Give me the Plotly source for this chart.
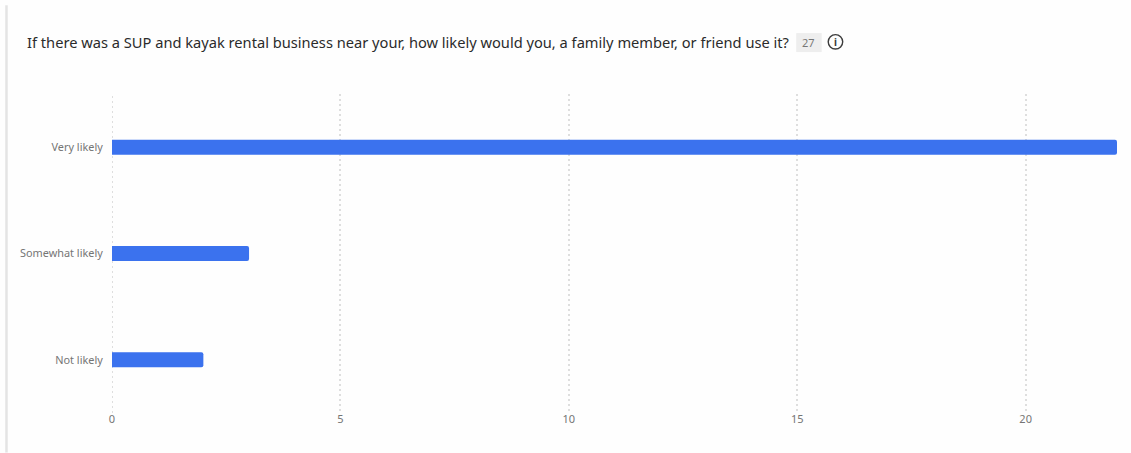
import plotly.graph_objects as go

categories = ["Very likely", "Somewhat likely", "Not likely"]
counts = [22, 3, 2]
x_ticks = [0, 5, 10, 15, 20]
question = "If there was a SUP and kayak rental business near your, how likely would you, a family member, or friend use it?"
response_total = "27"

WIDTH, HEIGHT = 1131, 453
LEFT, RIGHT, TOP, BOTTOM = 112, 14.3, 94, 39.5
FONT = "Noto Sans"
GRID = "#dedede"
GRID_DASH = "2px,3px"
LABEL = "#757575"


def px_x(p):
    return (p - LEFT) / (WIDTH - LEFT - RIGHT)


def px_y(p):
    return 1 - (p - TOP) / (HEIGHT - TOP - BOTTOM)


fig = go.Figure(
    go.Bar(
        x=counts,
        y=categories,
        orientation="h",
        marker=dict(color="#3b72ee", cornerradius=2, line=dict(width=0)),
        width=0.141,
        hoverinfo="x+y",
    )
)

fig.update_layout(
    width=WIDTH,
    height=HEIGHT,
    margin=dict(l=LEFT, r=RIGHT, t=TOP, b=BOTTOM, autoexpand=False),
    paper_bgcolor="#fefefe",
    plot_bgcolor="#fefefe",
    showlegend=False,
    font=dict(family=FONT, color=LABEL, size=11),
    xaxis=dict(
        range=[0, 22],
        tickvals=x_ticks,
        showgrid=True,
        gridcolor=GRID,
        gridwidth=2,
        griddash=GRID_DASH,
        zeroline=False,
        showline=False,
        ticks="",
        ticklabelstandoff=-2,
        tickfont=dict(size=11, color=LABEL),
    ),
    yaxis=dict(
        categoryorder="array",
        categoryarray=categories[::-1],
        showgrid=False,
        zeroline=False,
        showline=False,
        ticks="outside",
        ticklen=6,
        tickcolor="rgba(0,0,0,0)",
        tickfont=dict(size=10.9, color=LABEL),
    ),
    shapes=[
        # gridline at zero, which the axis drops at the range edge
        dict(type="line", xref="x", yref="paper", layer="below",
             x0=x_ticks[0], x1=x_ticks[0], y0=0, y1=1,
             line=dict(color=GRID, width=2, dash=GRID_DASH)),
        # panel rule on the left edge
        dict(type="line", xref="paper", yref="paper", layer="below",
             x0=px_x(6.5), x1=px_x(6.5), y0=px_y(5), y1=px_y(453),
             line=dict(color="#e4e4e4", width=2.5)),
        # count badge behind the total
        dict(type="rect", xref="paper", yref="paper", layer="below",
             x0=px_x(796), x1=px_x(821.5), y0=px_y(33), y1=px_y(52),
             fillcolor="#eeeeee", line=dict(width=0)),
        # info icon ring
        dict(type="circle", xref="paper", yref="paper",
             x0=px_x(828), x1=px_x(842.5), y0=px_y(34.5), y1=px_y(49),
             fillcolor="rgba(0,0,0,0)", line=dict(color="#3c3c3c", width=1.4)),
    ],
    annotations=[
        dict(text=question, xref="paper", yref="paper", x=px_x(25), y=px_y(42),
             xanchor="left", yanchor="middle", showarrow=False,
             font=dict(family=FONT, size=14.65, color="#2b2b2b")),
        dict(text=response_total, xref="paper", yref="paper", x=px_x(808.5), y=px_y(42.5),
             xanchor="center", yanchor="middle", showarrow=False,
             font=dict(family=FONT, size=11, color="#777777")),
        dict(text="<b>i</b>", xref="paper", yref="paper", x=px_x(835.2), y=px_y(41.5),
             xanchor="center", yanchor="middle", showarrow=False,
             font=dict(family=FONT, size=10, color="#3c3c3c")),
    ],
)

fig.write_html("out.html")
